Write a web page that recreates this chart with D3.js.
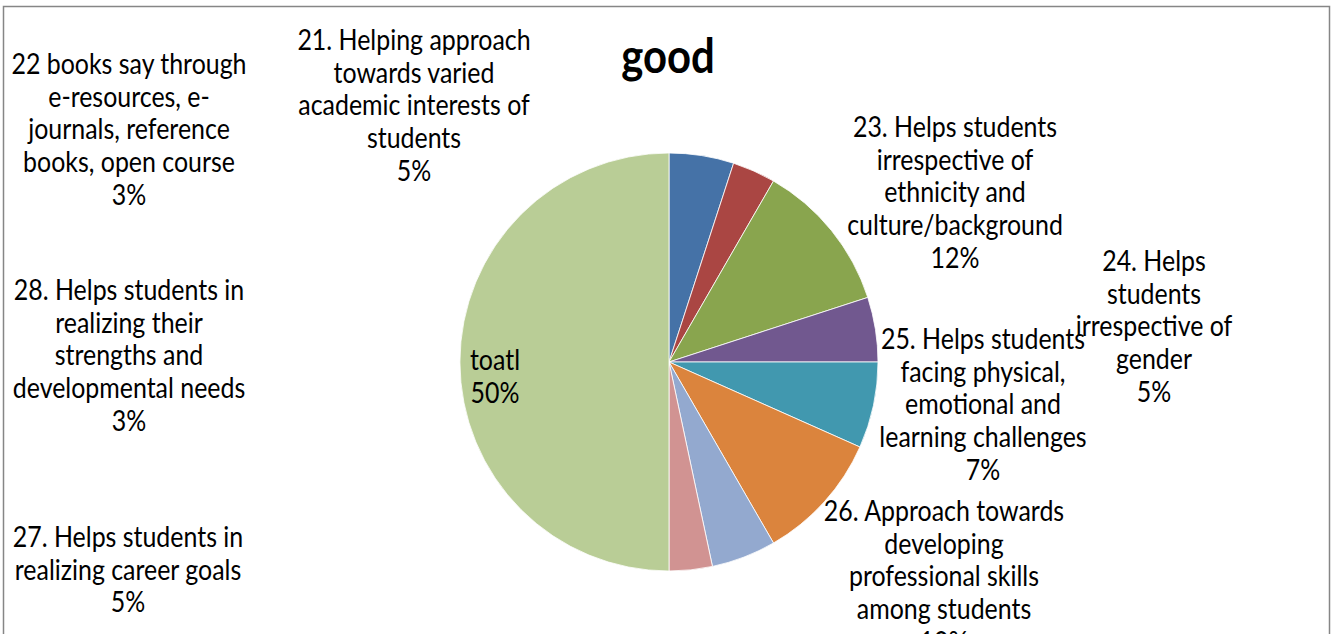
<!DOCTYPE html>
<html>
<head>
<meta charset="utf-8">
<script src="https://cdn.jsdelivr.net/npm/d3@7"></script>
<style>
  html, body { margin: 0; padding: 0; background: #fff; }
  svg { display: block; }
  text { font-family: Lato, "Noto Sans", sans-serif; fill: #000; }
</style>
</head>
<body>
<svg id="chart" width="1333" height="634"></svg>
<script>
// ---- data ----
const title = "good";
const categories = [
  "21. Helping approach\ntowards varied\nacademic interests of\nstudents",
  "22 books say through\ne-resources, e-\njournals, reference\nbooks, open course",
  "23. Helps students\nirrespective of\nethnicity and\nculture/background",
  "24. Helps\nstudents\nirrespective of\ngender",
  "25. Helps students\nfacing physical,\nemotional and\nlearning challenges",
  "26. Approach towards\ndeveloping\nprofessional skills\namong students",
  "27. Helps students in\nrealizing career goals",
  "28. Helps students in\nrealizing their\nstrengths and\ndevelopmental needs",
  "toatl"
];
const values = [3, 2, 7, 3, 4, 6, 3, 2, 30];
const colors = ["#4572A7", "#AA4643", "#89A54E", "#71588F", "#4198AF",
                "#DB843D", "#93A9CF", "#D19392", "#B9CD96"];

// ---- layout (label anchor: centre x, first baseline y) ----
const labelPos = [
  [414, 50], [129, 74], [955, 137], [1154, 271], [983, 349],
  [944, 521], [128, 547], [129, 300], [495, 370]
];

const svg = d3.select("#chart");
const cx = 669, cy = 362, R = 209;
const lineH = 32.7;
const sx = 0.89;

// frame
svg.append("rect")
  .attr("x", 3.5).attr("y", 6.5)
  .attr("width", 1326).attr("height", 700)
  .attr("fill", "#fff")
  .attr("stroke", "#868686").attr("stroke-width", 1.5);

const data = categories.map((c, i) => ({ name: c, value: values[i], color: colors[i] }));
const total = d3.sum(values);
const pie = d3.pie().sort(null).value(d => d.value);
const arc = d3.arc().innerRadius(0).outerRadius(R);

const g = svg.append("g").attr("transform", `translate(${cx},${cy})`);
g.selectAll("path")
  .data(pie(data))
  .join("path")
  .attr("d", arc)
  .attr("fill", d => d.data.color)
  .attr("stroke", "#fff")
  .attr("stroke-width", 0.8);

// title
svg.append("text")
  .attr("transform", `translate(668,73) scale(${sx},1)`)
  .attr("text-anchor", "middle")
  .attr("font-weight", "bold")
  .attr("font-size", 47)
  .text(title);

// labels
const fmt = d3.format(".0%");
const labels = svg.append("g");
data.forEach((d, i) => {
  const lines = d.name.split("\n").concat([fmt(d.value / total)]);
  const t = labels.append("text")
    .attr("transform", `translate(${labelPos[i][0]},${labelPos[i][1]}) scale(${sx},1)`)
    .attr("text-anchor", "middle")
    .attr("font-size", 28);
  lines.forEach((ln, k) => {
    t.append("tspan").attr("x", 0).attr("y", k * lineH).text(ln);
  });
});
</script>
</body>
</html>
